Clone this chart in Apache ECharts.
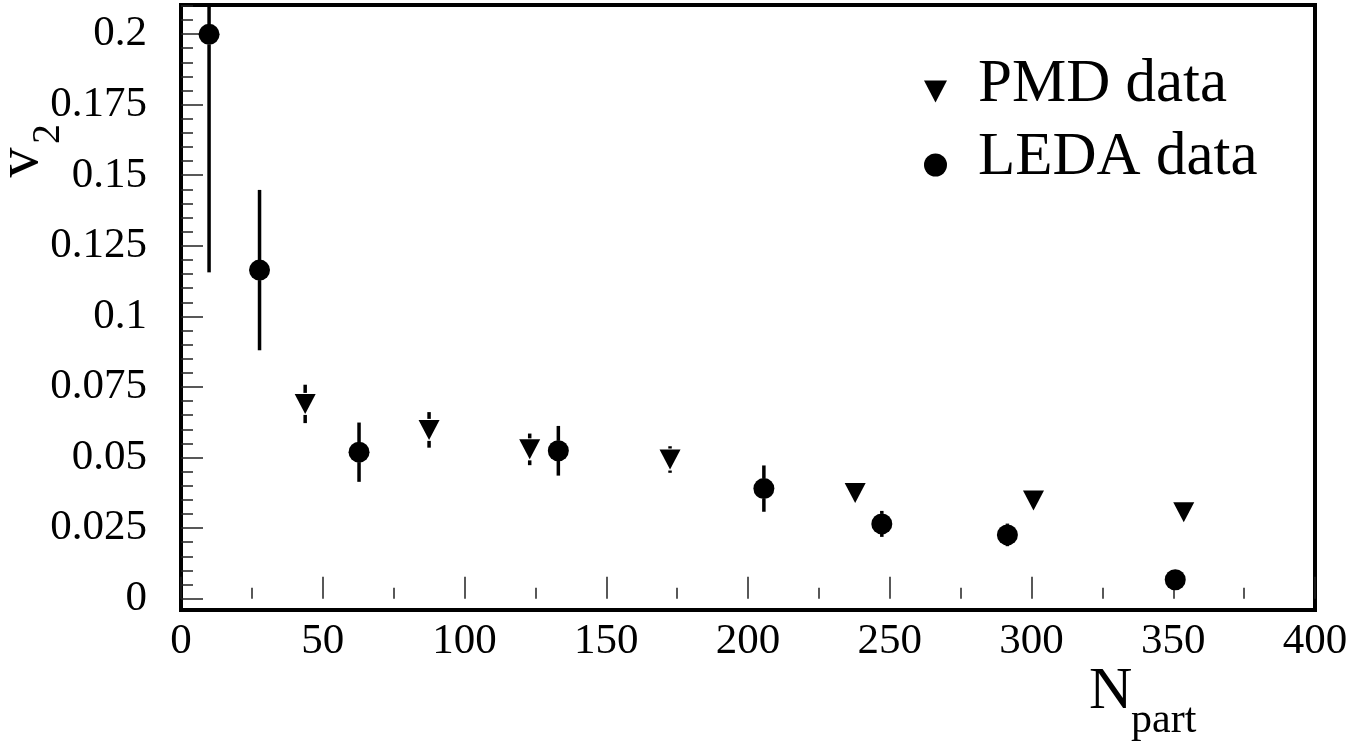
<!DOCTYPE html>
<html>
<head>
<meta charset="utf-8">
<script src="https://cdn.jsdelivr.net/npm/echarts@6/dist/echarts.min.js"></script>
<style>
html,body{margin:0;padding:0;background:#fff;}
#chart{width:1364px;height:748px;}
</style>
</head>
<body>
<div id="chart"></div>
<script>
// ---- data ----
var pmdX   = [43.8, 87.5, 123.0, 172.5, 237.8, 300.7, 353.7];
var pmdY   = [0.0690, 0.0598, 0.0529, 0.0493, 0.0374, 0.0348, 0.0306];
var pmdErr = [0.0068, 0.0063, 0.0056, 0.0047, 0.0030, 0.0030, 0.0030];

var ledaX   = [9.9, 27.7, 62.8, 133.1, 205.6, 247.2, 291.5, 350.7];
var ledaY   = [0.1999, 0.1164, 0.0519, 0.0524, 0.0390, 0.0265, 0.0226, 0.0067];
var ledaErr = [0.0843, 0.0284, 0.0105, 0.0088, 0.0082, 0.0046, 0.0040, 0.0030];

var xTicks = [0, 50, 100, 150, 200, 250, 300, 350, 400];
var yMajorTicks = [0, 0.025, 0.05, 0.075, 0.1, 0.125, 0.15, 0.175, 0.2];
var yMinorTicks = [0.005,0.01,0.015,0.02,0.03,0.035,0.04,0.045,0.055,0.06,0.065,0.07,
  0.08,0.085,0.09,0.095,0.105,0.11,0.115,0.12,0.13,0.135,0.14,0.145,0.155,0.16,0.165,0.17,
  0.18,0.185,0.19,0.195,0.205,0.21];

var seriesNames = ['PMD data', 'LEDA data'];
var FONT = '"Liberation Serif", "Times New Roman", serif';
var TRI = 'path://M0,0 L20,0 L10,19 Z';

function zip3(a, b, c) {
  var out = [];
  for (var i = 0; i < a.length; i++) out.push([a[i], b[i], c[i]]);
  return out;
}

function errRender(gap) {
  return function (params, api) {
    var x = api.value(0), y = api.value(1), e = api.value(2);
    var c = api.coord([x, y]);
    var hi = api.coord([x, y + e]);
    var lo = api.coord([x, y - e]);
    var cs = params.coordSys;
    var top = cs.y, bottom = cs.y + cs.height;
    var children = [];
    var yHi = Math.max(hi[1], top);
    if (yHi < c[1] - gap) {
      children.push({type: 'line', shape: {x1: c[0], y1: yHi, x2: c[0], y2: c[1] - gap},
        style: {stroke: '#000', lineWidth: 3.5}});
    }
    var yLo = Math.min(lo[1], bottom);
    if (yLo > c[1] + gap) {
      children.push({type: 'line', shape: {x1: c[0], y1: c[1] + gap, x2: c[0], y2: yLo},
        style: {stroke: '#000', lineWidth: 3.5}});
    }
    return {type: 'group', children: children};
  };
}

var chart = echarts.init(document.getElementById('chart'), null, {renderer: 'canvas'});
chart.setOption({
  animation: false,
  backgroundColor: '#fff',
  textStyle: {fontFamily: FONT, color: '#000'},
  grid: {left: 181, right: 49, top: 5, bottom: 138, show: true,
         borderColor: '#000', borderWidth: 4, outerBoundsMode: 'none', containLabel: false},
  xAxis: {
    type: 'value', min: 0, max: 400, interval: 50,
    axisLine: {show: false},
    axisTick: {show: true, inside: true, length: 22, lineStyle: {color: '#222', width: 1.5}},
    minorTick: {show: true, splitNumber: 2, length: 11, lineStyle: {color: '#222', width: 1.5}},
    splitLine: {show: false},
    axisLabel: {fontFamily: FONT, fontSize: 43, color: '#000', margin: 10,
                showMinLabel: true, showMaxLabel: true,
                customValues: xTicks}
  },
  yAxis: [{
    type: 'value', min: -0.004, max: 0.2103, position: 'left',
    axisLine: {show: false},
    axisTick: {show: true, inside: true, length: 22, customValues: yMajorTicks,
               lineStyle: {color: '#222', width: 1.5}},
    splitLine: {show: false},
    axisLabel: {fontFamily: FONT, fontSize: 43, color: '#000', margin: 34,
                customValues: yMajorTicks}
  }, {
    type: 'value', min: -0.004, max: 0.2103, position: 'left', offset: 0,
    axisLine: {show: false},
    axisTick: {show: true, inside: true, length: 12, customValues: yMinorTicks,
               lineStyle: {color: '#222', width: 1.5}},
    splitLine: {show: false},
    axisLabel: {show: false}
  }],
  legend: {
    orient: 'vertical', left: 919, top: 49, itemGap: 12.5,
    itemWidth: 23, itemHeight: 23,
    selectedMode: false,
    formatter: '{t|{name}}',
    textStyle: {fontFamily: FONT, fontSize: 61, color: '#000',
      rich: {t: {fontFamily: FONT, fontSize: 61, color: '#000', padding: [0, 0, 14, 26]}}},
    data: [{name: seriesNames[0], icon: TRI, itemStyle: {color: '#000', opacity: 1}},
           {name: seriesNames[1], icon: 'circle', itemStyle: {color: '#000', opacity: 1}}]
  },
  graphic: [
    {type: 'text', left: 1089, top: 662, silent: true,
     style: {text: 'N', font: '60px ' + FONT, fill: '#000'}},
    {type: 'text', left: 1131, top: 700, silent: true,
     style: {text: 'part', font: '42px ' + FONT, fill: '#000'}},
    {type: 'text', x: 21.7, y: 162.5, rotation: Math.PI / 2, silent: true,
     style: {text: 'v', font: '60px ' + FONT, fill: '#000', align: 'center', verticalAlign: 'middle'}},
    {type: 'text', x: 48.5, y: 134, rotation: Math.PI / 2, silent: true,
     style: {text: '2', font: '40px ' + FONT, fill: '#000', align: 'center', verticalAlign: 'middle'}}
  ],
  series: [
    {type: 'custom', name: 'PMD err', xAxisIndex: 0, yAxisIndex: 0, z: 2,
     renderItem: errRender(11), data: zip3(pmdX, pmdY, pmdErr), silent: true},
    {type: 'custom', name: 'LEDA err', xAxisIndex: 0, yAxisIndex: 0, z: 2,
     renderItem: errRender(10), data: zip3(ledaX, ledaY, ledaErr), silent: true},
    {type: 'scatter', name: seriesNames[0], symbol: TRI, symbolSize: [21, 20], z: 3,
     itemStyle: {color: '#000', opacity: 1},
     data: pmdX.map(function (x, i) { return [x, pmdY[i]]; })},
    {type: 'scatter', name: seriesNames[1], symbol: 'circle', symbolSize: 21, z: 3,
     itemStyle: {color: '#000', opacity: 1},
     data: ledaX.map(function (x, i) { return [x, ledaY[i]]; })}
  ]
});
</script>
</body>
</html>
